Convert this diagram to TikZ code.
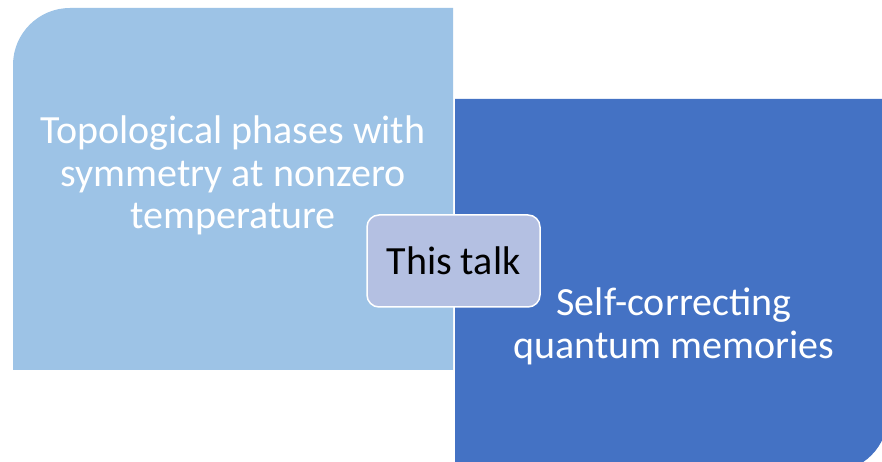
\documentclass[tikz,border=0pt]{standalone}
\usepackage{fontspec}
\setmainfont{Carlito}
\definecolor{lightbox}{HTML}{9DC3E6}
\definecolor{darkbox}{HTML}{4472C4}
\definecolor{centerbox}{HTML}{B4C0E2}
\tikzset{
  boxtext/.style={text=white, align=center, inner sep=0pt, font=\fontsize{40}{42.5}\selectfont},
  talkbox/.style={draw=white, line width=1.5pt, fill=centerbox, rounded corners=12pt,
    minimum width=173pt, minimum height=92pt, inner sep=0pt, text=black,
    font=\fontsize{40}{44}\selectfont}
}
\begin{document}
\begin{tikzpicture}[x=1pt,y=1pt]
\useasboundingbox (0,0) rectangle (882,462);
\clip (0,0) rectangle (882,462);
\fill[white] (0,0) rectangle (882,462);
% light blue quadrant
\fill[lightbox] (13,92) -- (13,397) arc[start angle=180, end angle=90, radius=57] -- (453,454) -- (453,92) -- cycle;
% dark blue quadrant
\fill[darkbox] (455,363) -- (888,363) -- (888,47) arc[start angle=0, end angle=-90, radius=57] -- (455,-10) -- cycle;
\node[boxtext] (left) at (233,286.5) {Topological phases with\\symmetry at nonzero\\temperature};
\node[boxtext] (right) at (674,135.5) {Self-correcting\\quantum memories};
\node[talkbox] (talk) at (453.5,201) {This talk};
\end{tikzpicture}
\end{document}
